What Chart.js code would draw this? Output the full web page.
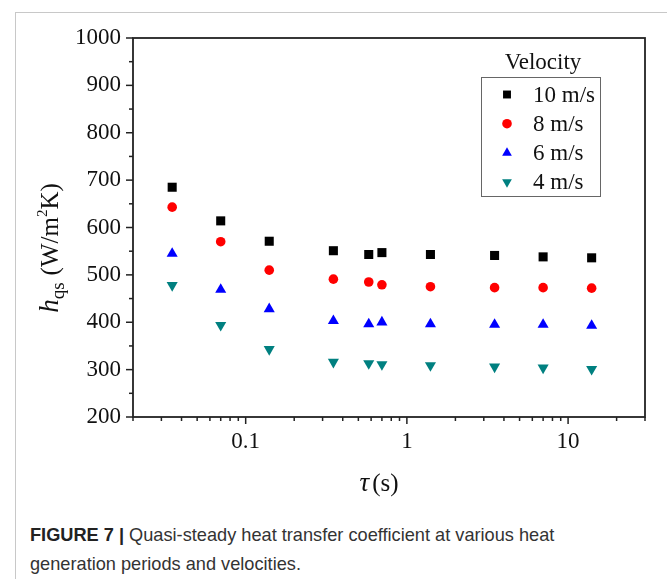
<!DOCTYPE html>
<html>
<head>
<meta charset="utf-8">
<script src="https://cdn.jsdelivr.net/npm/chart.js@4"></script>
<style>
  html, body { margin: 0; padding: 0; background: #fff; }
  body { width: 667px; height: 579px; position: relative; overflow: hidden; }
  #frame { position: absolute; left: 15px; top: 12px; width: 700px; height: 600px;
           border-top: 1.5px solid #c8c8c8; border-left: 1.5px solid #c8c8c8; }
  #wrap { position: absolute; left: 0; top: 0; width: 667px; height: 510px; }
  #caption { position: absolute; left: 30px; top: 521px; width: 636px; white-space: nowrap;
             font-family: "Liberation Sans", Arial, sans-serif; font-size: 18.2px;
             line-height: 29px; color: #333; }
  #caption b { color: #222; }
</style>
</head>
<body>
<div id="frame"></div>
<div id="wrap"><canvas id="c" width="667" height="510"></canvas></div>
<div id="caption"><b>FIGURE 7 |</b> Quasi-steady heat transfer coefficient at various heat<br>generation periods and velocities.</div>
<script>
// ---- data ----
const tau = [0.035, 0.07, 0.14, 0.35, 0.58, 0.7, 1.4, 3.5, 7, 14];
const h10 = [685, 614, 571, 551, 543, 547, 543, 541, 538, 536];
const h8  = [643, 570, 510, 491, 485, 479, 475, 473, 473, 472];
const h6  = [545, 469, 428, 403, 396, 400, 396, 395, 395, 393];
const h4  = [478, 394, 343, 316, 313, 311, 309, 306, 304, 301];
const seriesLabels = ['10 m/s', '8 m/s', '6 m/s', '4 m/s'];
const xTickValues = [0.1, 1, 10];
const xTickLabels = ['0.1', '1', '10'];
const yTickValues = [200, 300, 400, 500, 600, 700, 800, 900, 1000];
const legendTitle = 'Velocity';

const SERIF = '"Liberation Serif", "Times New Roman", serif';
const pts = arr => tau.map((t, i) => ({x: t, y: arr[i]}));

const styles = [
  {color: '#000000', pointStyle: 'rect', radius: 6.4, rotation: 0},
  {color: '#ff0000', pointStyle: 'circle', radius: 4.8, rotation: 0},
  {color: '#0000ff', pointStyle: 'triangle', radius: 6.4, rotation: 0},
  {color: '#008080', pointStyle: 'triangle', radius: 6.4, rotation: 180},
];
const seriesData = [h10, h8, h6, h4];

const datasets = seriesData.map((arr, i) => ({
  label: seriesLabels[i],
  data: pts(arr),
  backgroundColor: styles[i].color,
  borderColor: styles[i].color,
  borderWidth: 0,
  pointStyle: styles[i].pointStyle,
  pointRadius: styles[i].radius,
  pointRotation: styles[i].rotation,
  showLine: false
}));

const AXIS_COLOR = '#222';
const TEXT_COLOR = '#111';

const framePlugin = {
  id: 'framePlugin',
  afterDraw(chart) {
    const {ctx, chartArea: a, scales} = chart;
    const xs = scales.x, ys = scales.y;
    ctx.save();
    ctx.strokeStyle = AXIS_COLOR;
    ctx.lineWidth = 1.8;
    ctx.strokeRect(a.left, a.top, a.right - a.left, a.bottom - a.top);
    // y ticks
    ctx.lineWidth = 1.5;
    for (let v = 200; v <= 1000; v += 50) {
      const y = ys.getPixelForValue(v);
      const len = (v % 100 === 0) ? 7 : 4;
      ctx.beginPath(); ctx.moveTo(a.left, y); ctx.lineTo(a.left - len, y); ctx.stroke();
    }
    // x ticks (log)
    const decades = [0.01, 0.1, 1, 10];
    decades.forEach(d => {
      for (let m = 1; m <= 9; m++) {
        const v = d * m;
        if (v < 0.0199 || v > 30.01) continue;
        const x = xs.getPixelForValue(v);
        const major = (m === 1);
        const len = major ? 7 : 4;
        ctx.beginPath(); ctx.moveTo(x, a.bottom); ctx.lineTo(x, a.bottom + len); ctx.stroke();
      }
    });
    // axis titles
    ctx.fillStyle = TEXT_COLOR;
    ctx.textBaseline = 'alphabetic';
    // x title: tau (s)
    {
      const cx = (a.left + a.right) / 2 - 10;
      const by = 491;
      ctx.font = 'italic 27px ' + SERIF;
      const w1 = ctx.measureText('\u03C4').width;
      ctx.font = '25px ' + SERIF;
      const w2 = ctx.measureText('(s)').width;
      let x0 = cx - (w1 + 3 + w2) / 2;
      ctx.font = 'italic 27px ' + SERIF;
      ctx.textAlign = 'left';
      ctx.fillText('\u03C4', x0, by);
      ctx.font = '25px ' + SERIF;
      ctx.fillText('(s)', x0 + w1 + 3, by);
    }
    // y title (rotated)
    {
      const parts = [
        {t: 'h', f: 'italic 27px ' + SERIF, dy: 0},
        {t: 'qs', f: '19px ' + SERIF, dy: 6},
        {t: '(W/m', f: '25px ' + SERIF, dy: 0, gap: 7},
        {t: '2', f: '15px ' + SERIF, dy: -11},
        {t: 'K)', f: '25px ' + SERIF, dy: 0},
      ];
      let total = 0;
      parts.forEach(p => { ctx.font = p.f; p.w = ctx.measureText(p.t).width; total += p.w + (p.gap || 0); });
      ctx.translate(58, 248);
      ctx.rotate(-Math.PI / 2);
      let x = -total / 2;
      ctx.textAlign = 'left';
      parts.forEach(p => {
        x += (p.gap || 0);
        ctx.font = p.f;
        ctx.fillText(p.t, x, p.dy);
        x += p.w;
      });
    }
    ctx.restore();
  }
};

const legendPlugin = {
  id: 'legendPlugin',
  afterDraw(chart) {
    const ctx = chart.ctx;
    ctx.save();
    const bx = 481, by = 77, bw = 119, bh = 119;
    ctx.strokeStyle = '#666';
    ctx.lineWidth = 1;
    ctx.strokeRect(bx + 0.5, by + 0.5, bw, bh);
    ctx.fillStyle = TEXT_COLOR;
    ctx.font = '23px ' + SERIF;
    ctx.textAlign = 'center';
    ctx.textBaseline = 'middle';
    ctx.fillText(legendTitle, 543, 63);
    ctx.textAlign = 'left';
    chart.data.datasets.forEach((ds, i) => {
      const y = 94.5 + i * 29.2;
      ctx.fillStyle = ds.backgroundColor;
      ctx.strokeStyle = ds.backgroundColor;
      const lr = ds.pointStyle === 'circle' ? 4.8 : 5.6;
      Chart.helpers.drawPoint(ctx, {pointStyle: ds.pointStyle, rotation: ds.pointRotation, radius: lr, borderWidth: 0}, 507, y);
      ctx.fillStyle = TEXT_COLOR;
      ctx.fillText(ds.label, 533, y + 1);
    });
    ctx.restore();
  }
};

new Chart(document.getElementById('c'), {
  type: 'scatter',
  data: {datasets},
  options: {
    responsive: false,
    animation: false,
    devicePixelRatio: 1,
    layout: {autoPadding: false, padding: {left: 0, top: 38, right: 22, bottom: 0}},
    plugins: {legend: {display: false}, tooltip: {enabled: false}},
    scales: {
      x: {
        type: 'logarithmic',
        min: 0.02, max: 30,
        afterBuildTicks: s => { s.ticks = xTickValues.map(v => ({value: v})); },
        afterFit: s => { s.height = 510 - 417; },
        grid: {display: false},
        border: {display: false},
        ticks: {
          autoSkip: false, maxRotation: 0, padding: 3, color: TEXT_COLOR,
          font: {family: SERIF, size: 23},
          callback: (v) => { const i = xTickValues.indexOf(v); return i >= 0 ? xTickLabels[i] : ''; }
        }
      },
      y: {
        type: 'linear',
        min: 200, max: 1000,
        afterBuildTicks: s => { s.ticks = yTickValues.map(v => ({value: v})); },
        afterFit: s => { s.width = 133; },
        grid: {display: false},
        border: {display: false},
        ticks: {
          padding: 4, color: TEXT_COLOR,
          font: {family: SERIF, size: 23},
          callback: v => String(v)
        }
      }
    }
  },
  plugins: [framePlugin, legendPlugin]
});
</script>
</body>
</html>
